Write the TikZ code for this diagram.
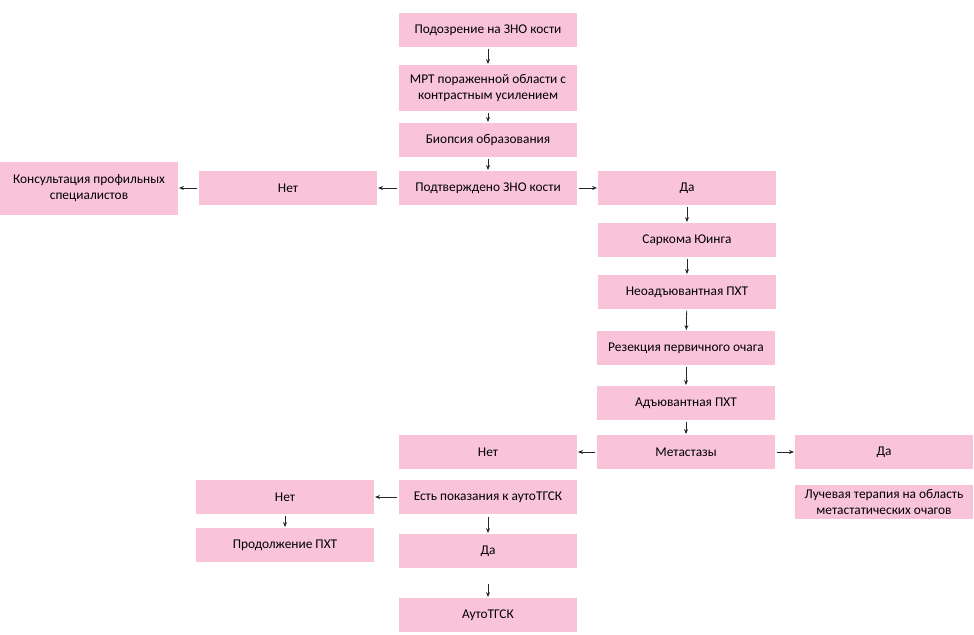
\documentclass[tikz,border=0pt]{standalone}
\usepackage{fontspec}
\setmainfont{Carlito}
\usepackage{xcolor}
\usetikzlibrary{positioning,arrows.meta}
\definecolor{boxpink}{RGB}{249,196,218}

\begin{document}
\begin{tikzpicture}[
    x=0.025cm, y=-0.025cm,
    font=\fontsize{9.5}{11.5}\selectfont,
    box/.style={fill=boxpink, draw=none, minimum width=4.45cm,
      minimum height=0.85cm, align=center, inner sep=1pt},
    tall/.style={box, minimum height=1.15cm},
    arr/.style={-{Stealth[length=3.5pt,width=2.8pt]}, line width=0.55pt,
      black!85, shorten <=1pt, shorten >=0.5pt}
]
\useasboundingbox (0,0) rectangle (974,634);
\node[box]  (susp) at (488,30)  {Подозрение на ЗНО кости};
\node[tall] (mri)  at (488,88)  {МРТ пораженной области с\\контрастным усилением};
\node[box]  (bio)  at (488,140) {Биопсия образования};
\node[box]  (conf) at (488,188) {Подтверждено ЗНО кости};
\node[box]  (noA)  at (288,188) {Нет};
\node[box, minimum height=1.325cm] (cons) at (89,188) {Консультация профильных\\специалистов};
\node[box]  (yesA) at (687,188) {Да};
\node[box]  (ew)   at (687,240) {Саркома Юинга};
\node[box]  (neo)  at (687,292) {Неоадъювантная ПХТ};
\node[box]  (res)  at (686,348) {Резекция первичного очага};
\node[box]  (adj)  at (686,403) {Адъювантная ПХТ};
\node[box]  (met)  at (686,452) {Метастазы};
\node[box]  (noB)  at (488,452) {Нет};
\node[box]  (yesB) at (884,452) {Да};
\node[box]  (rad)  at (884,502) {Лучевая терапия на область\\метастатических очагов};
\node[box]  (ind)  at (488,497) {Есть показания к аутоТГСК};
\node[box]  (noC)  at (285,497) {Нет};
\node[box]  (cont) at (285,545) {Продолжение ПХТ};
\node[box]  (yesC) at (488,551) {Да};
\node[box]  (auto) at (488,615) {АутоТГСК};
\draw[arr] (susp) -- (mri);
\draw[arr] (mri) -- (bio);
\draw[arr] (bio) -- (conf);
\draw[arr] (conf) -- (noA);
\draw[arr] (noA) -- (cons);
\draw[arr] (conf) -- (yesA);
\draw[arr] (yesA) -- (ew);
\draw[arr] (ew) -- (neo);
\draw[arr] (neo) -- (res);
\draw[arr] (res) -- (adj);
\draw[arr] (adj) -- (met);
\draw[arr] (met) -- (noB);
\draw[arr] (met) -- (yesB);
\draw[arr] (ind) -- (noC);
\draw[arr] (noC) -- (cont);
\draw[arr, shorten <=2pt] (ind) -- (yesC);
\draw[arr, shorten <=0.4cm] (yesC) -- (auto);
\end{tikzpicture}
\end{document}
